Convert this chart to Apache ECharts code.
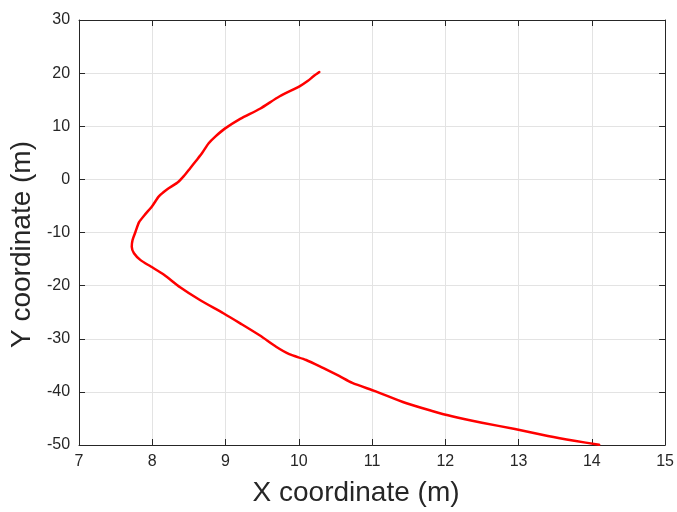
<!DOCTYPE html>
<html>
<head>
<meta charset="utf-8">
<script src="https://cdn.jsdelivr.net/npm/echarts@6/dist/echarts.min.js"></script>
<style>
html,body{margin:0;padding:0;background:#fff;}
#chart{width:677px;height:512px;}
</style>
</head>
<body>
<div id="chart"></div>
<script>
// Trajectory sample positions in metres
const xCoords = [10.28, 10.20, 10.12, 10.01, 9.74, 9.47, 9.20, 8.99, 8.86, 8.77, 8.68, 8.61, 8.52, 8.43, 8.34, 8.20, 8.09, 8.00, 7.89, 7.82, 7.77, 7.73, 7.72, 7.75, 7.84, 7.98, 8.16, 8.38, 8.65, 8.97, 9.20, 9.47, 9.69, 9.87, 10.10, 10.33, 10.55, 10.73, 11.05, 11.46, 11.82, 12.09, 12.50, 12.95, 13.40, 13.76, 14.10];
const yCoords = [20.2, 19.4, 18.5, 17.5, 15.65, 13.3, 11.4, 9.55, 8.05, 6.8, 4.95, 3.7, 2.15, 0.6, -0.65, -1.9, -3.2, -5.0, -6.8, -8.05, -9.9, -11.45, -12.7, -13.9, -15.2, -16.4, -17.95, -20.3, -22.7, -25.2, -27.1, -29.4, -31.5, -32.9, -34.0, -35.5, -37.0, -38.3, -39.9, -42.1, -43.6, -44.6, -45.8, -47.0, -48.3, -49.2, -49.95];
const xTicks = [7, 8, 9, 10, 11, 12, 13, 14, 15];
const yTicks = [-50, -40, -30, -20, -10, 0, 10, 20, 30];

const points = xCoords.map((x, i) => [x, yCoords[i]]);
const font = '"Liberation Sans", Arial, Helvetica, sans-serif';
const ink = '#262626';

const chart = echarts.init(document.getElementById('chart'), null, {renderer: 'canvas'});

const baseAxis = {
  type: 'value',
  axisLine: {show: true, onZero: false, lineStyle: {color: ink, width: 1}},
  axisTick: {show: true, inside: true, length: 6, lineStyle: {color: ink}},
  splitLine: {show: false},
};

chart.setOption({
  animation: false,
  backgroundColor: '#ffffff',
  grid: {left: 78, right: 9, top: 20, bottom: 61, containLabel: false},
  xAxis: [
    Object.assign({}, baseAxis, {
      min: xTicks[0], max: xTicks[xTicks.length - 1], interval: 1,
      position: 'bottom',
      name: 'X coordinate (m)',
      nameLocation: 'middle',
      nameGap: 34,
      nameTextStyle: {fontFamily: font, fontSize: 28, color: ink, padding: [0, 32, 0, 0]},
      axisLabel: {fontFamily: font, fontSize: 16, color: ink, margin: 9},
      splitLine: {show: true, lineStyle: {color: '#e3e3e3', width: 1}},
    }),
    Object.assign({}, baseAxis, {
      min: xTicks[0], max: xTicks[xTicks.length - 1], interval: 1,
      position: 'top',
      axisLabel: {show: false},
    }),
  ],
  yAxis: [
    Object.assign({}, baseAxis, {
      min: yTicks[0], max: yTicks[yTicks.length - 1], interval: 10,
      position: 'left',
      name: 'Y coordinate (m)',
      nameLocation: 'middle',
      nameGap: 42,
      nameRotate: 90,
      nameTextStyle: {fontFamily: font, fontSize: 28, color: ink, padding: [0, 24, 0, 0]},
      axisLabel: {fontFamily: font, fontSize: 16, color: ink, margin: 9},
      splitLine: {show: true, lineStyle: {color: '#e3e3e3', width: 1}},
    }),
    Object.assign({}, baseAxis, {
      min: yTicks[0], max: yTicks[yTicks.length - 1], interval: 10,
      position: 'right',
      axisLabel: {show: false},
    }),
  ],
  series: [{
    type: 'line',
    data: points,
    xAxisIndex: 0,
    yAxisIndex: 0,
    showSymbol: false,
    smooth: 0.25,
    lineStyle: {color: '#ff0000', width: 2.5, join: 'round', cap: 'round'},
  }],
});
</script>
</body>
</html>
